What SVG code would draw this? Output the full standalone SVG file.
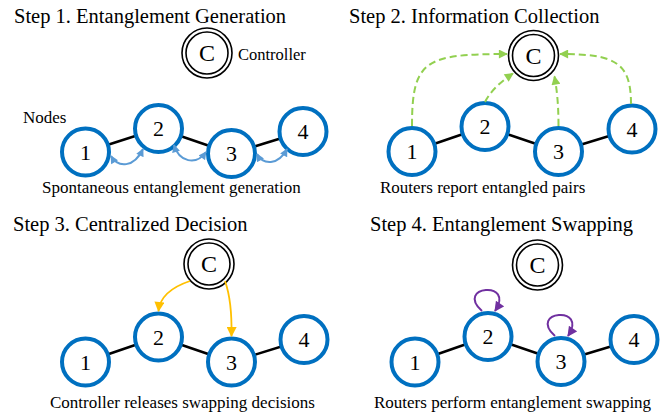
<svg xmlns="http://www.w3.org/2000/svg" width="669" height="416" viewBox="0 0 669 416">
<style>
text{font-family:'Liberation Serif','DejaVu Serif',serif;fill:#000}
.title{font-size:20.5px}
.cap{font-size:17px}
.lbl{font-size:16.5px}
.num{font-size:22px;text-anchor:middle}
.cc{font-size:24px;text-anchor:middle}
.node{fill:#fff;stroke:#0070C0;stroke-width:4}
.ring{fill:#fff;stroke:#000;stroke-width:1.6}
.ring2{fill:none;stroke:#000;stroke-width:1.6}
.edge{stroke:#000;stroke-width:2.5}
.blue{fill:none;stroke:#5B9BD5;stroke-width:2;marker-start:url(#mb);marker-end:url(#mb)}
.green{fill:none;stroke:#92D050;stroke-width:2;stroke-dasharray:7 4;marker-end:url(#mg)}
.orange{fill:none;stroke:#FFC000;stroke-width:1.8;marker-end:url(#mo)}
.purple{fill:none;stroke:#7030A0;stroke-width:2;marker-end:url(#mp)}
</style>
<defs>
<marker id="mb" viewBox="0 0 10 10" refX="9" refY="5" markerUnits="userSpaceOnUse" markerWidth="9" markerHeight="8" orient="auto-start-reverse"><path d="M0,0L10,5L0,10z" fill="#5B9BD5"/></marker>
<marker id="mg" viewBox="0 0 10 10" refX="9" refY="5" markerUnits="userSpaceOnUse" markerWidth="11" markerHeight="9" orient="auto"><path d="M0,0L10,5L0,10z" fill="#92D050"/></marker>
<marker id="mo" viewBox="0 0 10 10" refX="9" refY="5" markerUnits="userSpaceOnUse" markerWidth="11" markerHeight="10" orient="auto"><path d="M0,0L10,5L0,10z" fill="#FFC000"/></marker>
<marker id="mp" viewBox="0 0 10 10" refX="9" refY="5" markerUnits="userSpaceOnUse" markerWidth="11" markerHeight="10" orient="auto"><path d="M0,0L10,5L0,10z" fill="#7030A0"/></marker>
</defs>

<g id="titles" font-family="Liberation Serif, DejaVu Serif, serif">
<text class="title" x="14" y="23">Step 1. Entanglement Generation</text>
<text class="title" x="349" y="23">Step 2. Information Collection</text>
<text class="title" x="13" y="231">Step 3. Centralized Decision</text>
<text class="title" x="370" y="231">Step 4. Entanglement Swapping</text>
</g>
<g id="captions" font-family="Liberation Serif, DejaVu Serif, serif">
<text class="cap" x="42" y="193">Spontaneous entanglement generation</text>
<text class="cap" x="380" y="193">Routers report entangled pairs</text>
<text class="cap" x="50" y="408">Controller releases swapping decisions</text>
<text class="cap" x="374" y="408">Routers perform entanglement swapping</text>
<text class="lbl" x="238" y="60">Controller</text>
<text class="cap" x="23" y="123">Nodes</text>
</g>

<g id="connectors">
<line class="edge" x1="85.5" y1="152" x2="158.5" y2="128.5"/>
<line class="edge" x1="158.5" y1="128.5" x2="231.5" y2="153.5"/>
<line class="edge" x1="231.5" y1="153.5" x2="303" y2="131.5"/>
<line class="edge" x1="412" y1="151.5" x2="485" y2="126.5"/>
<line class="edge" x1="485" y1="126.5" x2="558.5" y2="151.5"/>
<line class="edge" x1="558.5" y1="151.5" x2="632" y2="129"/>
<line class="edge" x1="85.5" y1="362" x2="158.5" y2="337"/>
<line class="edge" x1="158.5" y1="337" x2="231.5" y2="362"/>
<line class="edge" x1="231.5" y1="362" x2="304" y2="339.5"/>
<line class="edge" x1="415" y1="362" x2="488" y2="336.5"/>
<line class="edge" x1="488" y1="336.5" x2="561" y2="361.5"/>
<line class="edge" x1="561" y1="361.5" x2="634" y2="339.5"/>
</g>

<g id="p1-nodes" font-family="Liberation Serif, DejaVu Serif, serif">
<g id="p1-c"><circle class="ring" cx="207" cy="53" r="25"/><circle class="ring2" cx="207" cy="53" r="21"/><text class="cc" x="207" y="61">C</text></g>
<g id="p1-n1"><circle class="node" cx="85.5" cy="152" r="23.5"/><text class="num" x="85.5" y="159.5">1</text></g>
<g id="p1-n2"><circle class="node" cx="158.5" cy="128.5" r="23.5"/><text class="num" x="158.5" y="136">2</text></g>
<g id="p1-n3"><circle class="node" cx="231.5" cy="153.5" r="23.5"/><text class="num" x="231.5" y="161">3</text></g>
<g id="p1-n4"><circle class="node" cx="303" cy="131.5" r="23.5"/><text class="num" x="303" y="139">4</text></g>
</g>
<g id="p2-nodes" font-family="Liberation Serif, DejaVu Serif, serif">
<g id="p2-c"><circle class="ring" cx="533.5" cy="55.5" r="25"/><circle class="ring2" cx="533.5" cy="55.5" r="21"/><text class="cc" x="533.5" y="63.5">C</text></g>
<g id="p2-n1"><circle class="node" cx="412" cy="151.5" r="23.5"/><text class="num" x="412" y="159">1</text></g>
<g id="p2-n2"><circle class="node" cx="485" cy="126.5" r="23.5"/><text class="num" x="485" y="134">2</text></g>
<g id="p2-n3"><circle class="node" cx="558.5" cy="151.5" r="23.5"/><text class="num" x="558.5" y="159">3</text></g>
<g id="p2-n4"><circle class="node" cx="632" cy="129" r="23.5"/><text class="num" x="632" y="136.5">4</text></g>
</g>
<g id="p3-nodes" font-family="Liberation Serif, DejaVu Serif, serif">
<g id="p3-c"><circle class="ring" cx="209" cy="264" r="25"/><circle class="ring2" cx="209" cy="264" r="21"/><text class="cc" x="209" y="272">C</text></g>
<g id="p3-n1"><circle class="node" cx="85.5" cy="362" r="23.5"/><text class="num" x="85.5" y="369.5">1</text></g>
<g id="p3-n2"><circle class="node" cx="158.5" cy="337" r="23.5"/><text class="num" x="158.5" y="344.5">2</text></g>
<g id="p3-n3"><circle class="node" cx="231.5" cy="362" r="23.5"/><text class="num" x="231.5" y="369.5">3</text></g>
<g id="p3-n4"><circle class="node" cx="304" cy="339.5" r="23.5"/><text class="num" x="304" y="347">4</text></g>
</g>
<g id="p4-nodes" font-family="Liberation Serif, DejaVu Serif, serif">
<g id="p4-c"><circle class="ring" cx="537.5" cy="265" r="25"/><circle class="ring2" cx="537.5" cy="265" r="21"/><text class="cc" x="537.5" y="273">C</text></g>
<g id="p4-n1"><circle class="node" cx="415" cy="362" r="23.5"/><text class="num" x="415" y="369.5">1</text></g>
<g id="p4-n2"><circle class="node" cx="488" cy="336.5" r="23.5"/><text class="num" x="488" y="344">2</text></g>
<g id="p4-n3"><circle class="node" cx="561" cy="361.5" r="23.5"/><text class="num" x="561" y="369">3</text></g>
<g id="p4-n4"><circle class="node" cx="634" cy="339.5" r="23.5"/><text class="num" x="634" y="347">4</text></g>
</g>

<g id="arrows">
<path class="blue" d="M111,156 C118,168 134,168 143,149"/>
<path class="blue" d="M174,145 C179,162 196,166 206,152"/>
<path class="blue" d="M257,154 C263,165 278,166 287,149"/>
<path class="green" d="M412,126 C412,60 425,54 507,54"/>
<path class="green" d="M485,102 C490,92 500,82 513,73.5"/>
<path class="green" d="M558.5,126 C558.5,105 557,90 554.5,76.5"/>
<path class="green" d="M631,104 C631,62 615,54 560,54"/>
<path class="orange" d="M190,281 C172,287 160,296 158.5,311"/>
<path class="orange" d="M225,281 C230,295 232,310 231.5,336"/>
<path class="purple" d="M482,311 C454,286 516,280 495,311"/>
<path class="purple" d="M555,336 C527,311 589,305 568,336"/>
</g>
</svg>
